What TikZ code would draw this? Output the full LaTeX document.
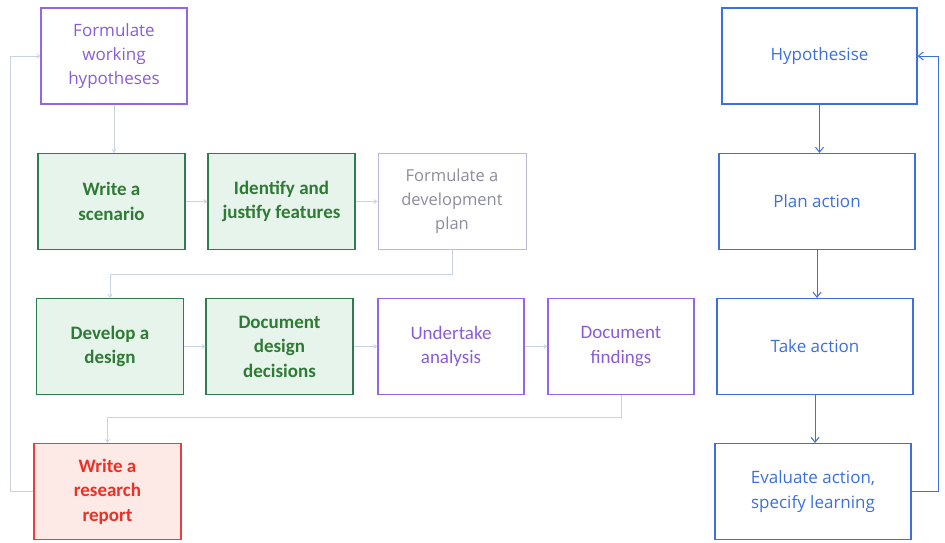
\documentclass[tikz,border=0pt]{standalone}
\usepackage{fontspec}
\setmainfont{Open Sans}
\newfontfamily\calfont{Carlito}
\usetikzlibrary{arrows.meta,calc}
\definecolor{purp}{HTML}{9466E6}
\definecolor{purptxt}{HTML}{8A5CD8}
\definecolor{grn}{HTML}{2E7D4F}
\definecolor{grnfill}{HTML}{E7F4EC}
\definecolor{grntxt}{HTML}{2F7A34}
\definecolor{greybox}{HTML}{BDB6D8}
\definecolor{greytxt}{HTML}{8C8C9C}
\definecolor{redc}{HTML}{E8413C}
\definecolor{redfill}{HTML}{FDE9E5}
\definecolor{redtxt}{HTML}{EA3127}
\definecolor{bluec}{HTML}{3B6FE2}
\definecolor{faint}{HTML}{C9D2E2}
\tikzset{
  box/.style={rectangle, draw, line width=1.1pt, minimum height=96pt, align=center, inner sep=2pt},
  purplebox/.style={box, draw=purp, text=purptxt, minimum width=146pt, font=\fontsize{17}{24}\selectfont},
  purpcal/.style={box, draw=purp, text=purptxt, minimum width=146pt, font=\calfont\fontsize{19}{24.5}\selectfont},
  greenbox/.style={box, draw=grn, fill=grnfill, text=grntxt, minimum width=147pt, font=\calfont\bfseries\fontsize{19}{24.5}\selectfont},
  greybx/.style={box, draw=greybox, line width=0.8pt, text=greytxt, minimum width=148pt, font=\fontsize{16.5}{24}\selectfont},
  redbox/.style={box, draw=redc, fill=redfill, text=redtxt, minimum width=147pt, font=\calfont\bfseries\fontsize{19}{24.5}\selectfont},
  bluebox/.style={box, draw=bluec, text=bluec, minimum width=196pt, font=\fontsize{17}{24.5}\selectfont},
  faintarrow/.style={draw=faint, line width=0.8pt, -{Straight Barb[length=3pt,width=4pt]}},
  bluearrow/.style={draw=bluec, line width=1pt, -{Straight Barb[length=5pt,width=8pt]}}
}
\begin{document}
\begin{tikzpicture}[x=1pt,y=-1pt]
\useasboundingbox (0,0) rectangle (945,542);
% left process
\node[purplebox] (fwh) at (114,56) {Formulate\\working\\hypotheses};
\node[greenbox] (ws) at (111.5,201.5) {Write a\\scenario};
\node[greenbox] (ij) at (281.5,201.5) {Identify and\\justify features};
\node[greybx] (fdp) at (452,201.5) {Formulate a\\development\\plan};
\node[greenbox] (dd) at (110,346.5) {Develop a\\design};
\node[greenbox] (ddd) at (279.5,346.5) {Document\\design\\decisions};
\node[purpcal] (ua) at (451,346.5) {Undertake\\analysis};
\node[purpcal] (df) at (621,346.5) {Document\\findings};
\node[redbox] (wrr) at (107.5,491.5) {Write a\\research\\report};
% right process
\node[bluebox, minimum width=195pt] (hyp) at (819.5,56) {Hypothesise};
\node[bluebox] (pa) at (817,201.5) {Plan action};
\node[bluebox] (ta) at (815,346.5) {Take action};
\node[bluebox] (ea) at (813,491.5) {Evaluate action,\\specify learning};
% faint connectors
\draw[faintarrow] (fwh.south) -- (fwh.south |- ws.north);
\draw[faintarrow] (ws) -- (ij);
\draw[faintarrow] (ij) -- (fdp);
\coordinate (c1) at ($(fdp.south)+(0,24)$);
\draw[faintarrow] (fdp.south) -- (c1) -| (dd.north);
\draw[faintarrow] (dd) -- (ddd);
\draw[faintarrow] (ddd) -- (ua);
\draw[faintarrow] (ua) -- (df);
\coordinate (c2) at ($(df.south)+(0,22)$);
\draw[faintarrow] (df.south) -- (c2) -| (wrr.north);
\coordinate (c3) at (10,491.5);
\draw[faintarrow] (wrr.west) -- (c3) |- (fwh.west);
% blue connectors
\draw[bluearrow] (hyp.south) -- (hyp.south |- pa.north);
\draw[bluearrow] (pa.south) -- (pa.south |- ta.north);
\draw[bluearrow] (ta.south) -- (ta.south |- ea.north);
\coordinate (c4) at (938,491.5);
\draw[bluearrow] (ea.east) -- (c4) |- (hyp.east);
\end{tikzpicture}
\end{document}
